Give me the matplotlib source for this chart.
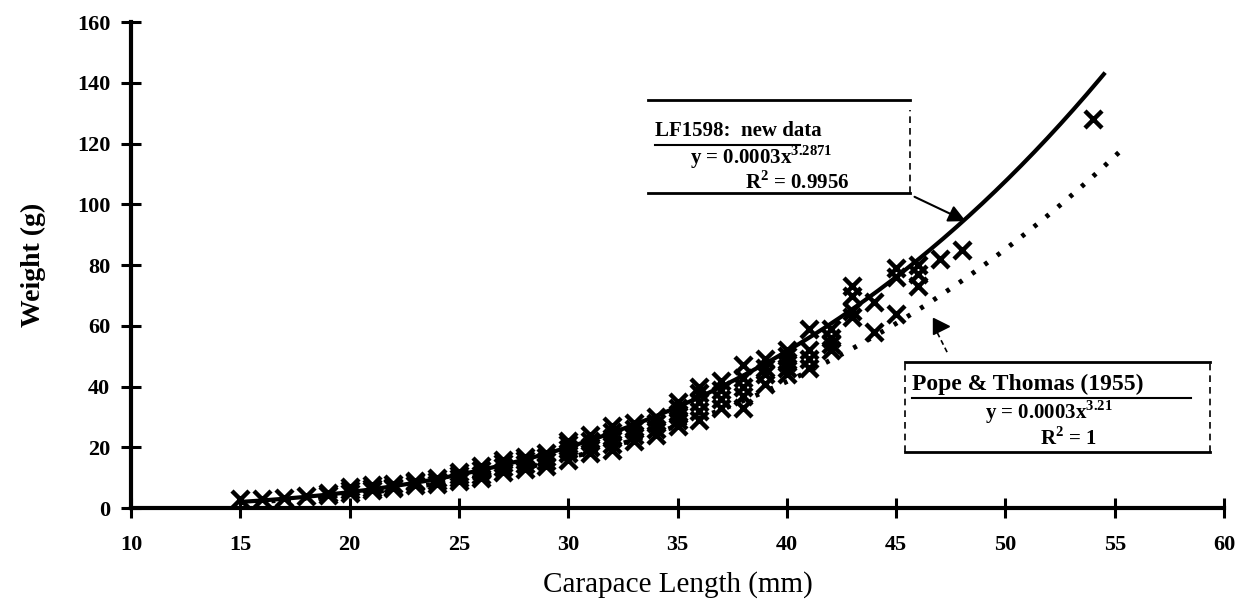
import matplotlib
matplotlib.use("Agg")
import matplotlib.pyplot as plt
import numpy as np

# carapace length (mm) and weight (g) of the LF1598 sample
length = [15, 16, 17, 18, 19, 19, 20, 20, 20, 21, 21, 21, 22, 22, 22,
          23, 23, 23, 24, 24, 24, 25, 25, 25, 25, 26, 26, 26, 26,
          27, 27, 27, 27, 28, 28, 28, 28, 29, 29, 29, 29,
          30, 30, 30, 30, 30, 31, 31, 31, 31, 32, 32, 32, 32, 32,
          33, 33, 33, 33, 34, 34, 34, 34, 35, 35, 35, 35, 35,
          36, 36, 36, 36, 36, 37, 37, 37, 37, 38, 38, 38, 38, 38,
          39, 39, 39, 39, 40, 40, 40, 40, 40, 41, 41, 41, 41,
          42, 42, 42, 42, 43, 43, 43, 43, 44, 44, 45, 45, 45,
          46, 46, 46, 47, 48, 54]
weight = [3, 3, 3.5, 4, 4.5, 5, 5, 6, 7, 6, 6.5, 7.5, 6.5, 7, 8,
          7.5, 8.5, 9, 8, 9, 10, 9, 10, 11, 12, 10, 11, 12.5, 14,
          12, 13.5, 15, 16, 13, 14.5, 16, 17, 14, 15.5, 17, 18,
          16, 18, 19.5, 21, 22, 18, 20, 22, 24, 19, 21, 23, 25, 27,
          22, 24, 26, 28, 24, 26, 28, 30, 27, 29, 31, 33, 35,
          29, 32, 35, 38, 40, 33, 36, 39, 42, 33, 37, 40, 43, 47,
          41, 44, 46, 49, 44, 46, 48, 50, 52, 46, 49, 52, 59,
          52, 54, 56, 59, 63, 65, 70, 73, 58, 68, 64, 76, 79,
          73, 77, 80, 82, 85, 128]

# power fits  W = a * L^b
fit_new = (0.00028, 3.2871)
fit_pope = (0.0003, 3.21)
new_range = (15, 54.5)
pope_range = (15, 55.4)

plt.rcParams['font.family'] = ['Liberation Serif', 'DejaVu Serif']
plt.rcParams['mathtext.fontset'] = 'custom'
plt.rcParams['mathtext.rm'] = 'Liberation Serif:bold'
plt.rcParams['mathtext.bf'] = 'Liberation Serif:bold'

fig = plt.figure(figsize=(12.49, 6.13), dpi=100)
ax = fig.add_axes([0.105, 0.171, 0.875, 0.793])

ax.scatter(length, weight, marker='x', s=150, linewidths=3.2, color='black', zorder=3)

xs = np.linspace(*new_range, 200)
ax.plot(xs, fit_new[0] * xs ** fit_new[1], color='black', lw=3, zorder=4)
xp = np.linspace(*pope_range, 200)
ax.plot(xp, fit_pope[0] * xp ** fit_pope[1], color='black', lw=3.5, ls=(0, (0.8, 2.4)), zorder=4)

ax.set_xlim(10, 60)
ax.set_ylim(0, 160)
ax.set_xticks(range(10, 61, 5))
ax.set_yticks(range(0, 161, 20))
for s in ['top', 'right']:
    ax.spines[s].set_visible(False)
for s in ['left', 'bottom']:
    ax.spines[s].set_linewidth(3)
ax.tick_params(direction='inout', length=14, width=2.2, labelsize=16)
ax.tick_params(axis='x', pad=12)
ax.tick_params(axis='y', pad=8)
for lab in ax.get_xticklabels() + ax.get_yticklabels():
    lab.set_fontweight('bold')

ax.set_xlabel('Carapace Length (mm)', fontsize=21, labelpad=12)
ax.set_ylabel('Weight (g)', fontsize=20, fontweight='bold', labelpad=22)

# LF1598 label box
T = ax.transAxes
ax.plot([0.473, 0.713], [0.840, 0.840], color='black', lw=2, transform=T, clip_on=False)
ax.plot([0.473, 0.713], [0.648, 0.648], color='black', lw=2, transform=T, clip_on=False)
ax.plot([0.713, 0.713], [0.648, 0.82], color='black', lw=1.2, ls=(0, (4, 3)), transform=T)
ax.text(0.479, 0.776, 'LF1598:  new data', fontsize=15, fontweight='bold', va='center', transform=T)
ax.plot([0.479, 0.612], [0.748, 0.748], color='black', lw=1.5, transform=T)
ax.text(0.511, 0.722, r'y = 0.0003x$^{3.2871}$', fontsize=15, fontweight='bold', va='center', transform=T)
ax.text(0.562, 0.670, r'R$^{2}$ = 0.9956', fontsize=15, fontweight='bold', va='center', transform=T)
ax.annotate('', xy=(0.766, 0.588), xytext=(0.7145, 0.643), xycoords=T, textcoords=T,
            arrowprops=dict(arrowstyle='-|>', color='black', lw=1.5, mutation_scale=26))

# Pope & Thomas label box
ax.plot([0.708, 0.987], [0.300, 0.300], color='black', lw=2, transform=T, clip_on=False)
ax.plot([0.708, 0.987], [0.115, 0.115], color='black', lw=2, transform=T, clip_on=False)
ax.plot([0.708, 0.708], [0.115, 0.300], color='black', lw=1.2, ls=(0, (4, 3)), transform=T)
ax.plot([0.987, 0.987], [0.115, 0.300], color='black', lw=1.2, ls=(0, (4, 3)), transform=T, clip_on=False)
ax.text(0.7145, 0.255, 'Pope & Thomas (1955)', fontsize=17, fontweight='bold', va='center', transform=T)
ax.plot([0.7145, 0.97], [0.226, 0.226], color='black', lw=1.5, transform=T)
ax.text(0.781, 0.198, r'y = 0.0003x$^{3.21}$', fontsize=15, fontweight='bold', va='center', transform=T)
ax.text(0.832, 0.143, r'R$^{2}$ = 1', fontsize=15, fontweight='bold', va='center', transform=T)
ax.plot([0.7466, 0.7374], [0.321, 0.362], color='black', lw=1.2, ls=(0, (3, 2)), transform=T)
ax.plot([0.741], [0.374], marker='>', markersize=12, color='black', transform=T)

fig.savefig('out.png', dpi=100)
plt.close(fig)
